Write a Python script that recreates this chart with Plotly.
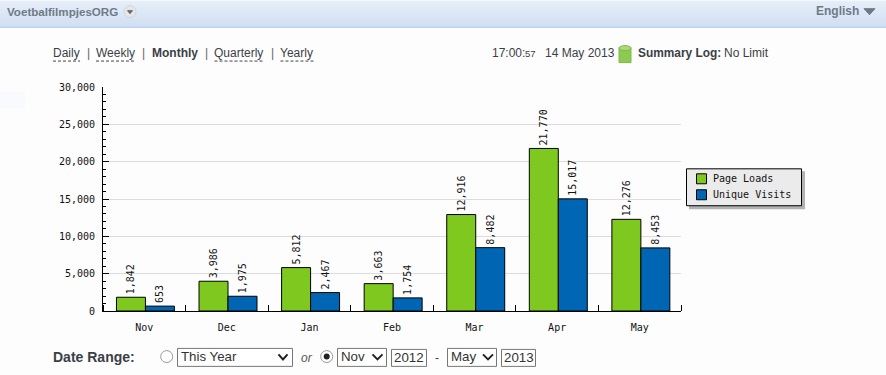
import plotly.graph_objects as go

months = ["Nov", "Dec", "Jan", "Feb", "Mar", "Apr", "May"]
page_loads = [1842, 3986, 5812, 3663, 12916, 21770, 12276]
unique_visits = [653, 1975, 2467, 1754, 8482, 15017, 8453]
series_names = ["Page Loads", "Unique Visits"]
y_ticks = [0, 5000, 10000, 15000, 20000, 25000, 30000]
y_tick_labels = ["0", "5,000", "10,000", "15,000", "20,000", "25,000", "30,000"]

W, H = 886, 375
L, R, T, B = 103, 681, 86.5, 311
MONO = "DejaVu Sans Mono"
SANS = "Liberation Sans"
TXT = "#3a3f47"
GREEN, BLUE = "#7ec820", "#0066b3"


def px(x):
    return (x - L) / (R - L)


def py(y):
    return (B - y) / (B - T)


shapes, annotations = [], []


def rect(x0, y0, x1, y1, fill="rgba(0,0,0,0)", line=None, lw=1, layer="below", kind="rect"):
    shapes.append(dict(type=kind, xref="paper", yref="paper", x0=px(x0), x1=px(x1), y0=py(y0), y1=py(y1),
                       fillcolor=fill, line=dict(color=line or fill, width=lw if line else 0), layer=layer))


def seg(points, color, lw=1, dash="solid", fill=None):
    d = "M" + " L".join(f"{px(a):.5f},{py(b):.5f}" for a, b in points)
    if fill:
        d += " Z"
    shapes.append(dict(type="path", xref="paper", yref="paper", path=d, line=dict(color=color, width=lw, dash=dash),
                       fillcolor=fill or "rgba(0,0,0,0)", layer="below"))


def text(x, y, s, size=12, color=TXT, bold=False, italic=False, font=SANS, anchor="left"):
    if bold:
        s = f"<b>{s}</b>"
    if italic:
        s = f"<i>{s}</i>"
    annotations.append(dict(xref="paper", yref="paper", x=px(x), y=py(y), text=s, showarrow=False,
                            xanchor=anchor, yanchor="middle", borderpad=0, borderwidth=0,
                            font=dict(family=font, size=size, color=color)))


# header gradient
top_c, bot_c = (224, 234, 248), (198, 216, 239)
for i in range(26):
    t = i / 25
    c = tuple(round(a + (b - a) * t) for a, b in zip(top_c, bot_c))
    rect(0, i, W, i + 1, fill=f"rgb{c}")
rect(0, 26, W, 27, fill="#a9c5e8")
rect(0, 92, 25, 108, fill="#f9fafd")

HEAD = "#6f7a88"
text(7, 11, "VoetbalfilmpjesORG", size=11.6, color=HEAD, bold=True)
rect(124, 5, 136, 17, fill="#e6e6e6", line="#cfd6df", kind="circle")
seg([(127.5, 10), (132.5, 10), (130, 13)], "#6a6a6a", fill="#6a6a6a")
text(815.5, 10, "English", size=12, color=HEAD, bold=True)
seg([(864, 8), (875, 8), (869.5, 14)], HEAD, fill=HEAD)

# period links
nav = [("Daily", 53, 80, False), ("Weekly", 96, 135, False), ("Monthly", 152, 197, True),
       ("Quarterly", 214.5, 264, False), ("Yearly", 280.5, 314, False)]
for name, x0, x1, on in nav:
    text(x0 - 0.5, 52, name, size=12, bold=on)
    if not on:
        seg([(x0, 60.5), (x1, 60.5)], "#444444", dash="3px,2px")
for sx in (88, 143, 206, 272):
    text(sx, 52, "|", size=12, color="#666666", anchor="center")

# status line
text(491.5, 52, "17:00:", size=12)
text(525, 53, "57", size=9.5)
text(544.5, 52, "14 May 2013", size=12)
rect(619, 47, 631, 62, fill="#8ccb50", line="#7fbb48")
rect(619, 45, 631, 50, fill="#a9d97a", line="#7fbb48", kind="circle")
text(637.5, 52, "Summary Log:", size=11.9, bold=True)
text(724, 52, "No Limit", size=12)

# legend, built from the series names and colours
rect(689, 171, 805, 209, fill="#b2b2b2")
rect(686.5, 168.5, 801.5, 205.5, fill="#ebebeb", line="#000000")
for name, col, y0 in zip(series_names, (GREEN, BLUE), (173.5, 189.5)):
    rect(696.5, y0, 706.5, y0 + 10, fill=col, line="#000000")
    text(713, y0 + 5, name, size=10, color="#111111", font=MONO)

# date range row
text(53, 357, "Date Range:", size=14, bold=True)
rect(160.7, 350.7, 172.7, 362.7, fill="#ffffff", line="#9a9a9a", kind="circle")
rect(177.5, 348.5, 292.5, 366.5, fill="#ffffff", line="#777777")
text(181, 356.5, "This Year", size=13.3, color="#333333")
seg([(278.5, 354.5), (283, 359.5), (287.5, 354.5)], "#222222", lw=2)
text(300.5, 358, "or", size=12, italic=True, color="#555555")
rect(320.7, 350.7, 332.7, 362.7, fill="#ffffff", line="#9a9a9a", kind="circle")
rect(323.7, 353.7, 329.7, 359.7, fill="#222222", kind="circle")
rect(337.5, 348.5, 386.5, 366.5, fill="#ffffff", line="#777777")
text(341, 356.5, "Nov", size=13.3, color="#333333")
seg([(372.5, 354.5), (377.5, 359.5), (382.5, 354.5)], "#222222", lw=2)
rect(391.5, 349.5, 426.5, 366.5, fill="#ffffff", line="#777777")
text(409, 358, "2012", size=13.3, color="#333333", anchor="center")
text(436.7, 358, "-", size=12, anchor="center")
rect(447.5, 348.5, 496.5, 366.5, fill="#ffffff", line="#777777")
text(451, 356.5, "May", size=13.3, color="#333333")
seg([(483, 354.5), (488, 359.5), (493, 354.5)], "#222222", lw=2)
rect(501.5, 349.5, 535.5, 366.5, fill="#ffffff", line="#777777")
text(518.5, 358, "2013", size=13.3, color="#333333", anchor="center")

xpos = list(range(len(months)))
BAR_W = 0.351
fig = go.Figure()
for name, vals, col, off in ((series_names[0], page_loads, GREEN, -BAR_W + 0.014),
                             (series_names[1], unique_visits, BLUE, 0.014)):
    fig.add_bar(x=xpos, y=vals, name=name, width=BAR_W, offset=off,
                marker=dict(color=col, line=dict(color="#000000", width=1)),
                texttemplate="%{y:,}", textposition="outside", textangle=-90, cliponaxis=False,
                constraintext="none", textfont=dict(family=MONO, size=10, color="#111111"))

fig.update_layout(
    width=W, height=H, autosize=False, barmode="overlay", showlegend=False,
    margin=dict(l=L, r=W - R, t=T, b=H - B, pad=0),
    paper_bgcolor="#fdfdfd", plot_bgcolor="rgba(0,0,0,0)", shapes=shapes, annotations=annotations,
    xaxis=dict(range=[-0.5, len(months) - 0.5], tickmode="array", tickvals=xpos, ticktext=months, ticks="",
               showline=True, linecolor="#000000", linewidth=1, showgrid=False, zeroline=False,
               ticklabelstandoff=7, tickfont=dict(family=MONO, size=10, color="#111111"),
               minor=dict(tick0=0.5, dtick=1, ticks="inside", ticklen=6, tickcolor="#000000", tickwidth=1,
                          showgrid=False)),
    yaxis=dict(range=[0, 30000], tickmode="array", tickvals=y_ticks, ticktext=y_tick_labels, ticks="inside",
               ticklen=6, tickcolor="#000000", tickwidth=1, showline=True, linecolor="#000000", linewidth=1,
               showgrid=True, gridcolor="#dcdcdc", gridwidth=1, zeroline=False, ticklabelstandoff=5,
               tickfont=dict(family=MONO, size=10, color="#111111"),
               minor=dict(dtick=1000, ticks="inside", ticklen=3, tickcolor="#000000", tickwidth=1, showgrid=False)),
)

fig.write_html("out.html", post_script="document.body.style.margin='0';", config={"displayModeBar": False})
